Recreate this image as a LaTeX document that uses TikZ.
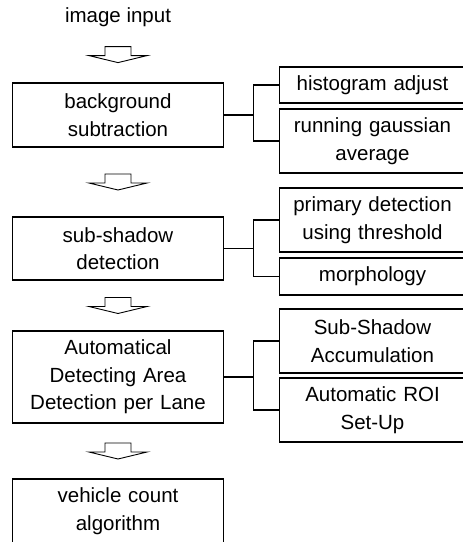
\documentclass[tikz,border=0pt]{standalone}
\usepackage{fontspec}
\setmainfont{Liberation Sans}
\usetikzlibrary{calc}

% hollow block arrow half way between two nodes
\newcommand\flowarrow[2]{
    \path ($(#1.south)!0.5!(#2.north)$) coordinate (m);
    \draw[hollow] (m) ++(-13,-8) -- ++(0,9) -- ++(-16,0) -- ++(29,7)
        -- ++(29,-7) -- ++(-16,0) -- ++(0,-9) -- cycle;
}

\tikzset{
    stage/.style={draw, line width=1.1pt, minimum width=211pt, text width=205pt,
        minimum height=64pt, inner sep=0pt, align=center,
        font=\fontsize{20.5}{27.5}\selectfont},
    substage/.style={stage, minimum width=186pt, text width=180pt},
    link/.style={line width=1.1pt},
    hollow/.style={line width=0.9pt}
}

\begin{document}
\begin{tikzpicture}[x=1pt,y=-1pt]
    \useasboundingbox (0,0) rectangle (463,542);
    \clip (0,0) rectangle (463,542);

    \node[inner sep=0pt, font=\fontsize{20.5}{27.5}\selectfont] (input) at (118,17) {image input};

    % main flow
    \node[stage] (bg) at (118,115) {background\\subtraction};
    \node[stage, minimum height=63pt] (sub) at (118,248.5) {sub-shadow\\detection};
    \node[stage, minimum height=92pt] (area) at (118,377) {Automatical\\Detecting Area\\Detection per Lane};
    \node[stage] (count) at (118,511) {vehicle count\\algorithm};

    \flowarrow{input}{bg}
    \flowarrow{bg}{sub}
    \flowarrow{sub}{area}
    \flowarrow{area}{count}

    % sub steps
    \node[substage, minimum height=36pt] (hist) at (372.5,85) {histogram adjust};
    \node[substage] (gauss) at (372.5,141) {running gaussian\\average};
    \node[substage] (thresh) at (372.5,220) {primary detection\\using threshold};
    \node[substage, minimum height=37pt] (morph) at (372.5,276.5) {morphology};
    \node[substage] (accum) at (372.5,341) {Sub-Shadow\\Accumulation};
    \node[substage] (roi) at (372.5,410) {Automatic ROI\\Set-Up};

    \draw[link] (bg.east) -- ++(29,0) coordinate (bgfork);
    \draw[link] (hist.west) -| (bgfork) |- (gauss.west);
    \draw[link, line width=1.8pt] (sub.east) -- ++(29,0) coordinate (subfork);
    \draw[link] (thresh.west) -| (subfork) |- (morph.west);
    \draw[link, line width=1.6pt] (area.east) -- ++(29,0) coordinate (areafork);
    \draw[link] (accum.west) -| (areafork) |- (roi.west);
\end{tikzpicture}
\end{document}
